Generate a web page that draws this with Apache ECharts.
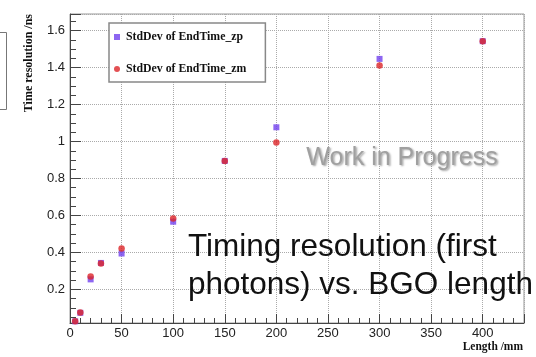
<!DOCTYPE html>
<html>
<head>
<meta charset="utf-8">
<script src="https://cdn.jsdelivr.net/npm/echarts@6/dist/echarts.min.js"></script>
<style>html,body{margin:0;padding:0;background:#fff;}#c{width:536px;height:357px;}</style>
</head>
<body>
<div id="c"></div>
<script>
var lengths = [5, 10, 20, 30, 50, 100, 150, 200, 300, 400];
var zpValues = [0.027, 0.073, 0.254, 0.343, 0.394, 0.566, 0.895, 1.077, 1.447, 1.543];
var zmValues = [0.027, 0.075, 0.27, 0.34, 0.421, 0.584, 0.895, 0.995, 1.411, 1.543];
var seriesNames = ['StdDev of EndTime_zp', 'StdDev of EndTime_zm'];
var xTitle = 'Length /mm';
var yTitle = 'Time resolution /ns';
var watermark = 'Work in Progress';
var caption = 'Timing resolution (first\nphotons) vs. BGO length';

function pairs(xs, ys) { return xs.map(function (x, i) { return [x, ys[i]]; }); }

var chart = echarts.init(document.getElementById('c'), null, {renderer: 'canvas'});
var serif = 'Liberation Serif';
var sans = 'Liberation Sans';
chart.setOption({
  animation: false,
  backgroundColor: '#fff',
  grid: {left: 70, top: 14, right: 12, bottom: 34, show: true, borderColor: '#999', borderWidth: 1, backgroundColor: 'transparent'},
  legend: {
    orient: 'vertical', left: 109, top: 23,
    data: seriesNames,
    itemWidth: 6, itemHeight: 6, itemGap: 20,
    padding: [8, 19, 7, 5],
    backgroundColor: '#fff', borderColor: '#888', borderWidth: 1.5,
    textStyle: {fontFamily: serif, fontWeight: 'bold', fontSize: 11.8, color: '#111', padding: [0, 0, 0, 1]}
  },
  xAxis: {
    type: 'value', min: 0, max: 440, interval: 50,
    axisLine: {show: true, lineStyle: {color: '#444', width: 1}},
    axisTick: {show: true, inside: true, length: 9, lineStyle: {color: '#444'}},
    minorTick: {show: true, splitNumber: 5, length: 5, lineStyle: {color: '#444'}},
    splitLine: {show: true, lineStyle: {color: '#aaa', type: 'dotted', width: 1}},
    axisLabel: {showMaxLabel: false, margin: 4, fontFamily: sans, fontSize: 13, color: '#222'}
  },
  yAxis: {
    type: 'value', min: 0.018, max: 1.69, splitNumber: 8,
    axisLine: {show: true, lineStyle: {color: '#444', width: 1}},
    axisTick: {show: true, inside: true, length: 11, lineStyle: {color: '#444'}},
    minorTick: {show: true, splitNumber: 4, length: 6, lineStyle: {color: '#444'}},
    splitLine: {show: true, lineStyle: {color: '#aaa', type: 'dotted', width: 1}},
    axisLabel: {showMinLabel: false, showMaxLabel: false, margin: 5, fontFamily: sans, fontSize: 13, color: '#222'}
  },
  series: [
    {name: seriesNames[0], type: 'scatter', symbol: 'rect', symbolSize: 6, itemStyle: {color: '#7040ee'}, data: pairs(lengths, zpValues), z: 3},
    {name: seriesNames[1], type: 'scatter', symbol: 'circle', symbolSize: 6.5, itemStyle: {color: '#dc2428'}, data: pairs(lengths, zmValues), z: 4}
  ],
  graphic: [
    {type: 'rect', left: -10, top: 30, shape: {width: 14, height: 77}, style: {fill: 'none', stroke: '#777', lineWidth: 1}},
    {type: 'text', x: 29, y: 14, rotation: Math.PI / 2,
      style: {text: yTitle, font: 'bold 12px "Liberation Serif"', fill: '#111', align: 'right', verticalAlign: 'middle'}},
    {type: 'text', x: 523, y: 347,
      style: {text: xTitle, font: 'bold 11.5px "Liberation Serif"', fill: '#111', align: 'right', verticalAlign: 'middle'}},
    {type: 'text', x: 402, y: 158, z: 10,
      style: {text: watermark, font: '25px "Liberation Sans"', fill: '#a0a0a0', align: 'center', verticalAlign: 'middle',
        textShadowColor: 'rgba(0,0,0,0.35)', textShadowBlur: 2, textShadowOffsetX: 1.5, textShadowOffsetY: 1.5}},
    {type: 'text', x: 188, y: 228, z: 10,
      style: {text: caption, font: '31.5px "Liberation Sans"', lineHeight: 38, fill: '#111', align: 'left', verticalAlign: 'top'}}
  ]
});
</script>
</body>
</html>
